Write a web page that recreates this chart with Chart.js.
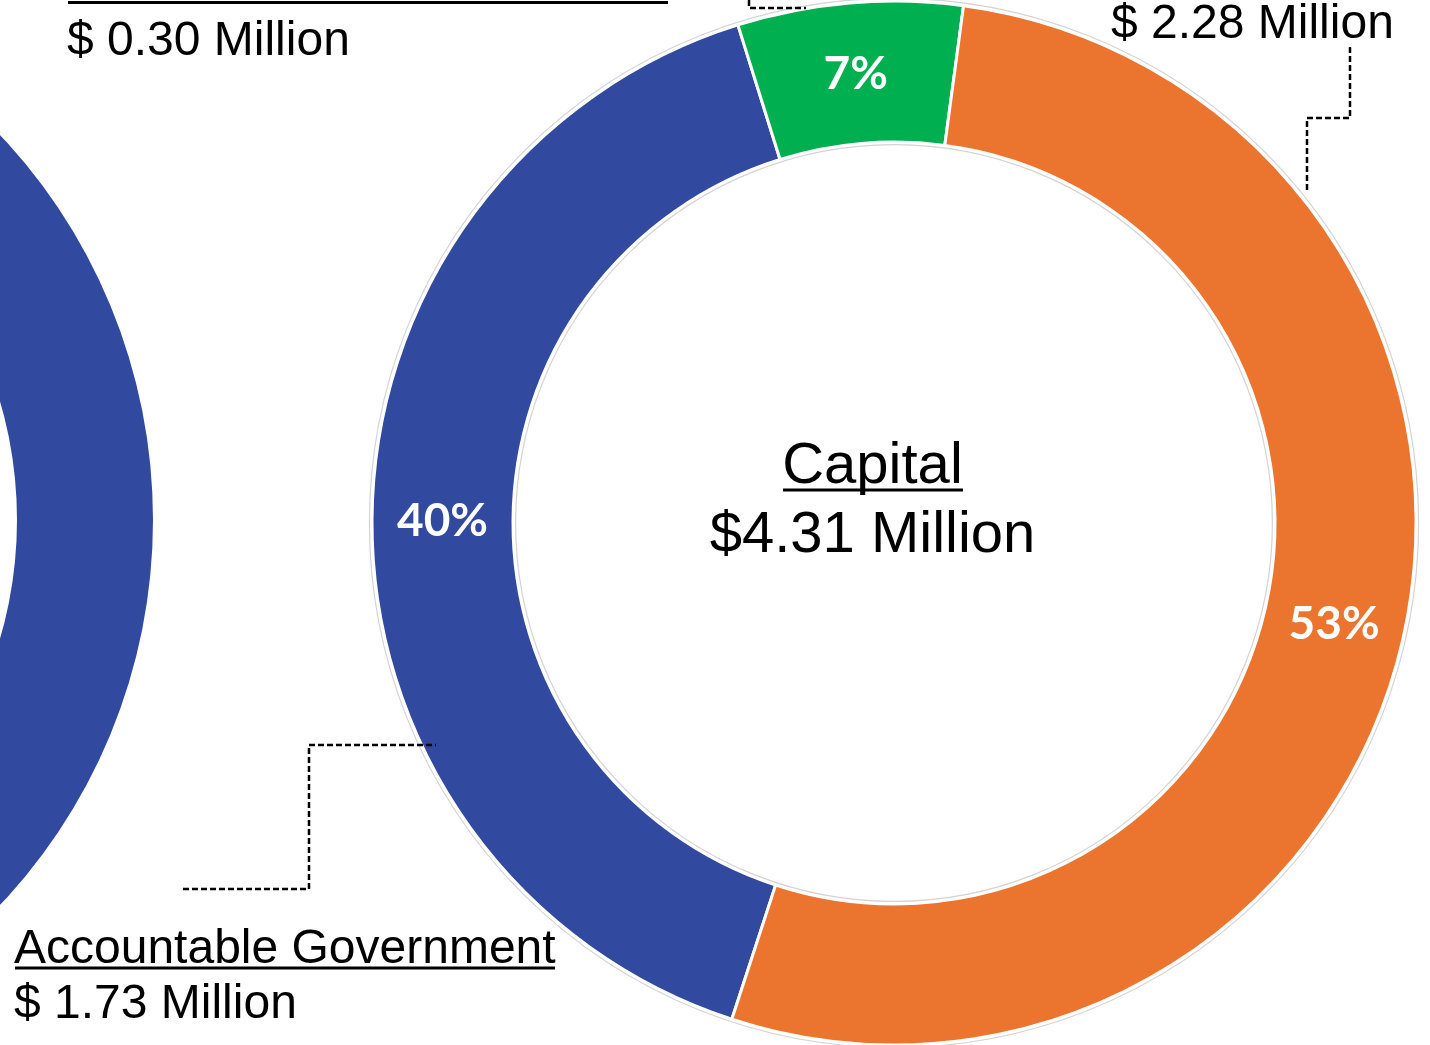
<!DOCTYPE html>
<html>
<head>
<meta charset="utf-8">
<script src="https://cdn.jsdelivr.net/npm/chart.js@4/dist/chart.umd.min.js"></script>
<style>
  html, body { margin: 0; padding: 0; background: #ffffff; }
  body { width: 1430px; height: 1045px; overflow: hidden; position: relative; }
  canvas { position: absolute; }
  #mainChart { left: 344px; top: -27px; width: 1100px; height: 1100px; }
  #leftChart { left: -978px; top: -50px; width: 1140px; height: 1140px; }
  svg { position: absolute; left: 0; top: 0; pointer-events: none; }
  .lbl { font-family: "Liberation Sans", Arial, sans-serif; fill: #000; }
</style>
</head>
<body>
<canvas id="leftChart" width="1140" height="1140"></canvas>
<canvas id="mainChart" width="1100" height="1100"></canvas>
<svg id="overlay" width="1430" height="1045"></svg>
<script>
// ---- Data ----
const chartTitle = 'Capital';
// Only the first category name is visible; the other two titles are cut off at the top edge.
const categories = ['Accountable Government', 'Category 2 (green)', 'Category 3 (orange)'];
const valuesMillions = [1.73, 0.30, 2.28];
const segmentColors = ['#31499E', '#00B050', '#EB742E'];
// Partly visible neighbouring chart on the left: only a blue segment shows.
const leftCategories = ['Accountable Government'];
const leftValues = [1];
const leftColors = ['#31499E'];

const total = valuesMillions.reduce((a, b) => a + b, 0);
const fmtMoney = v => '$ ' + v.toFixed(2) + ' Million';

// ---- Main doughnut ----
const ringOutline = {
  id: 'ringOutline',
  afterDatasetsDraw(chart) {
    const arc = chart.getDatasetMeta(0).data[0];
    if (!arc) return;
    const {x, y, outerRadius, innerRadius} = arc.getProps(['x', 'y', 'outerRadius', 'innerRadius'], true);
    const ctx = chart.ctx;
    ctx.save();
    ctx.strokeStyle = '#d4d4d4';
    ctx.lineWidth = 1.2;
    ctx.beginPath(); ctx.arc(x, y, outerRadius + 2.6, 0, Math.PI * 2); ctx.stroke();
    ctx.beginPath(); ctx.arc(x, y, innerRadius - 2.6, 0, Math.PI * 2); ctx.stroke();
    ctx.restore();
  }
};
const pctLabels = {
  id: 'pctLabels',
  afterDatasetsDraw(chart) {
    const ctx = chart.ctx;
    const meta = chart.getDatasetMeta(0);
    ctx.save();
    ctx.fillStyle = '#ffffff';
    ctx.font = 'bold 46px Lato, "Open Sans", sans-serif';
    ctx.textAlign = 'center';
    ctx.textBaseline = 'middle';
    meta.data.forEach((arc, i) => {
      const p = arc.tooltipPosition();
      const pct = Math.round(valuesMillions[i] / total * 100) + '%';
      ctx.fillText(pct, p.x, p.y + 1);
    });
    ctx.restore();
  }
};

new Chart(document.getElementById('mainChart'), {
  type: 'doughnut',
  data: {
    labels: categories,
    datasets: [{
      data: valuesMillions,
      backgroundColor: segmentColors,
      borderColor: '#ffffff',
      borderWidth: 3,
      hoverOffset: 0
    }]
  },
  options: {
    responsive: false,
    animation: false,
    events: [],
    radius: 522,
    cutout: (381 / 522 * 100) + '%',
    rotation: 198.1,
    layout: { padding: 0 },
    plugins: { legend: { display: false }, tooltip: { enabled: false } }
  },
  plugins: [ringOutline, pctLabels]
});

new Chart(document.getElementById('leftChart'), {
  type: 'doughnut',
  data: {
    labels: leftCategories,
    datasets: [{ data: leftValues, backgroundColor: leftColors, borderWidth: 0, hoverOffset: 0 }]
  },
  options: {
    responsive: false,
    animation: false,
    events: [],
    radius: 561,
    cutout: (425 / 561 * 100) + '%',
    layout: { padding: 0 },
    plugins: { legend: { display: false }, tooltip: { enabled: false } }
  }
});

// ---- Text and leader lines ----
const svg = document.getElementById('overlay');
const NS = 'http://www.w3.org/2000/svg';
function text(str, x, y, size, anchor) {
  const t = document.createElementNS(NS, 'text');
  t.setAttribute('x', x); t.setAttribute('y', y);
  t.setAttribute('class', 'lbl');
  t.setAttribute('font-size', size);
  if (anchor) t.setAttribute('text-anchor', anchor);
  t.textContent = str;
  svg.appendChild(t);
  return t;
}
function line(x1, y1, x2, y2, w) {
  const l = document.createElementNS(NS, 'line');
  l.setAttribute('x1', x1); l.setAttribute('y1', y1);
  l.setAttribute('x2', x2); l.setAttribute('y2', y2);
  l.setAttribute('stroke', '#000'); l.setAttribute('stroke-width', w);
  svg.appendChild(l);
}
function dashed(points) {
  const p = document.createElementNS(NS, 'polyline');
  p.setAttribute('points', points.map(q => q.join(',')).join(' '));
  p.setAttribute('fill', 'none');
  p.setAttribute('stroke', '#000');
  p.setAttribute('stroke-width', 2.5);
  p.setAttribute('stroke-dasharray', '6 3');
  svg.appendChild(p);
}

// green segment label (title cut off above)
line(68, 2.5, 668, 2.5, 3);
text(fmtMoney(valuesMillions[1]), 67, 55, 48);
// orange segment label (title cut off above)
text(fmtMoney(valuesMillions[2]), 1111, 38, 48);
// Accountable Government
text(categories[0], 14, 963, 48);
line(15, 968, 555, 968, 3);
text(fmtMoney(valuesMillions[0]), 14, 1018, 48);
// centre
text(chartTitle, 872.5, 483, 58, 'middle');
line(783, 490, 963, 490, 3);
text('$' + total.toFixed(2) + ' Million', 872.5, 552, 58, 'middle');

// leader lines
dashed([[183, 889], [309, 889], [309, 745], [436, 745]]);
dashed([[749, 0], [749, 8], [806, 8]]);
dashed([[1350, 47], [1350, 118], [1307, 118], [1307, 190]]);
</script>
</body>
</html>
